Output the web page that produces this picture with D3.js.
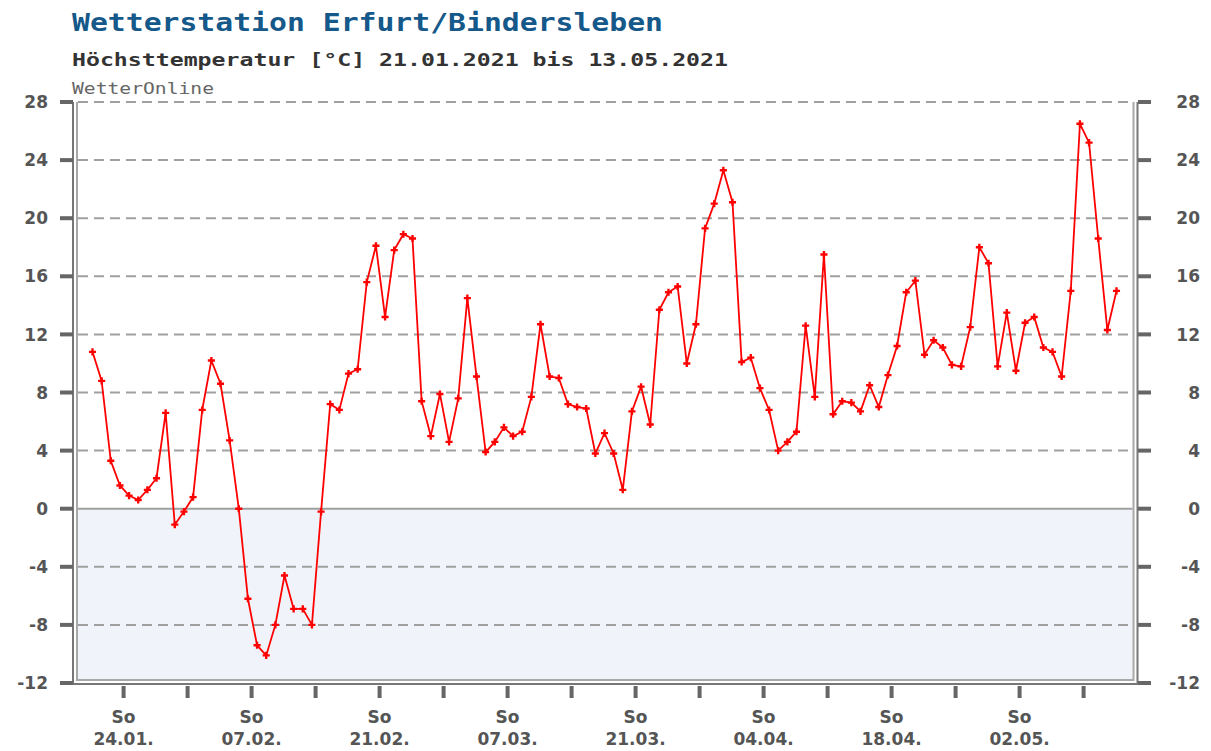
<!DOCTYPE html>
<html>
<head>
<meta charset="utf-8">
<script src="https://cdn.jsdelivr.net/npm/d3@7"></script>
<style>
  body { margin: 0; background: #fff; }
  svg { display: block; }
</style>
</head>
<body>
<div id="chart"></div>
<script>
// daily max temperature, Erfurt/Bindersleben, 21.01.2021 .. 13.05.2021 (one value per day)
const tempValues = [
  10.8, 8.8, 3.3, 1.6, 0.9, 0.6, 1.3, 2.1, 6.6, -1.1,
  -0.2, 0.8, 6.8, 10.2, 8.6, 4.7, 0.0, -6.2, -9.4, -10.1,
  -8.0, -4.6, -6.9, -6.9, -8.0, -0.2, 7.2, 6.8, 9.3, 9.6,
  15.6, 18.1, 13.2, 17.8, 18.9, 18.6, 7.4, 5.0, 7.9, 4.6,
  7.6, 14.5, 9.1, 3.9, 4.6, 5.6, 5.0, 5.3, 7.7, 12.7,
  9.1, 9.0, 7.2, 7.0, 6.9, 3.8, 5.2, 3.8, 1.3, 6.7,
  8.4, 5.8, 13.7, 14.9, 15.3, 10.0, 12.7, 19.3, 21.0, 23.3,
  21.1, 10.1, 10.4, 8.3, 6.8, 4.0, 4.6, 5.3, 12.6, 7.7,
  17.5, 6.5, 7.4, 7.3, 6.7, 8.5, 7.0, 9.2, 11.2, 14.9,
  15.7, 10.6, 11.6, 11.1, 9.9, 9.8, 12.5, 18.0, 16.9, 9.8,
  13.5, 9.5, 12.8, 13.2, 11.1, 10.8, 9.1, 15.0, 26.5, 25.2,
  18.6, 12.3, 15.0
];

const yTicks = [28, 24, 20, 16, 12, 8, 4, 0, -4, -8, -12];
// day index of the first Sunday tick, ticks weekly after that
const firstSunday = 3;
const weekTicks = 16;
const xTickLabels = ["24.01.", "07.02.", "21.02.", "07.03.", "21.03.", "04.04.", "18.04.", "02.05."];

const titleText = "Wetterstation Erfurt/Bindersleben";
const subtitleText = "Höchsttemperatur [°C] 21.01.2021 bis 13.05.2021";
const sourceText = "WetterOnline";

function drawChart(id) {
  const W = 1211, H = 751;
  const plot = { left: 77, right: 1133.5, top: 102, bottom: 680 };

  const svg = d3.select(`#${id}`)
    .append("svg")
    .attr("width", W)
    .attr("height", H);

  const xScale = d3.scaleLinear()
    .domain([0, tempValues.length - 1])
    .range([92.5, 1116.5]);

  const yScale = d3.scaleLinear()
    .domain([-12, 28])
    .range([683, 102]);

  const labelFont = "'DejaVu Sans', sans-serif";

  // titles
  svg.append("text")
    .attr("x", 72).attr("y", 31)
    .attr("textLength", 591).attr("lengthAdjust", "spacingAndGlyphs")
    .style("font", `bold 24px 'DejaVu Sans Mono', monospace`)
    .attr("fill", "#15588a")
    .text(titleText);

  svg.append("text")
    .attr("x", 72).attr("y", 66)
    .attr("textLength", 656).attr("lengthAdjust", "spacingAndGlyphs")
    .style("font", `bold 18px 'DejaVu Sans Mono', monospace`)
    .attr("fill", "#333")
    .text(subtitleText);

  svg.append("text")
    .attr("x", 72).attr("y", 94)
    .attr("textLength", 142).attr("lengthAdjust", "spacingAndGlyphs")
    .style("font", `15px 'DejaVu Sans Mono', monospace`)
    .attr("fill", "#666")
    .text(sourceText);

  // light blue area below freezing
  svg.append("rect")
    .attr("x", plot.left + 1).attr("y", yScale(0))
    .attr("width", plot.right - plot.left - 2)
    .attr("height", plot.bottom - yScale(0))
    .attr("fill", "#f0f4fa");

  // dashed gridlines
  svg.append("g")
    .selectAll("line")
    .data(yTicks.filter((d) => d !== 0 && d !== -12))
    .join("line")
    .attr("x1", plot.left + 1).attr("x2", plot.right - 1)
    .attr("y1", (d) => yScale(d)).attr("y2", (d) => yScale(d))
    .attr("stroke", "#a0a0a0")
    .attr("stroke-width", 2)
    .attr("stroke-dasharray", "10,6");

  // zero line
  svg.append("line")
    .attr("x1", plot.left + 1).attr("x2", plot.right - 1)
    .attr("y1", yScale(0)).attr("y2", yScale(0))
    .attr("stroke", "#a0a0a0")
    .attr("stroke-width", 2);

  // double frame (inner light, outer darker)
  svg.append("path")
    .attr("d", `M${plot.left},${plot.top}V${plot.bottom}H${plot.right}V${plot.top}`)
    .attr("fill", "none").attr("stroke", "#a8a8a8").attr("stroke-width", 2);
  svg.append("path")
    .attr("d", `M73,${plot.top}V684H1137.5V${plot.top}`)
    .attr("fill", "none").attr("stroke", "#777").attr("stroke-width", 2);

  // y ticks + labels on both sides
  const yAxis = svg.append("g");
  yAxis.selectAll("rect.l")
    .data(yTicks).join("rect").attr("class", "l")
    .attr("x", 60).attr("y", (d) => yScale(d) - 2)
    .attr("width", 13).attr("height", 4).attr("fill", "#666");
  yAxis.selectAll("rect.r")
    .data(yTicks).join("rect").attr("class", "r")
    .attr("x", 1138).attr("y", (d) => yScale(d) - 2)
    .attr("width", 13).attr("height", 4).attr("fill", "#666");
  yAxis.selectAll("text.l")
    .data(yTicks).join("text").attr("class", "l")
    .attr("x", 48).attr("y", (d) => yScale(d))
    .attr("dy", "0.36em").attr("text-anchor", "end")
    .style("font", `bold 17px ${labelFont}`)
    .attr("fill", "#555")
    .text((d) => d);
  yAxis.selectAll("text.r")
    .data(yTicks).join("text").attr("class", "r")
    .attr("x", 1200).attr("y", (d) => yScale(d))
    .attr("dy", "0.36em").attr("text-anchor", "end")
    .style("font", `bold 17px ${labelFont}`)
    .attr("fill", "#555")
    .text((d) => d);

  // x ticks: weekly on Sundays, label every second one
  const tickDays = d3.range(weekTicks).map((k) => firstSunday + 7 * k + 0.4);
  const xAxis = svg.append("g");
  xAxis.selectAll("rect")
    .data(tickDays).join("rect")
    .attr("x", (d) => xScale(d) - 2).attr("y", 686)
    .attr("width", 4).attr("height", 12).attr("fill", "#666");
  const labelled = xTickLabels.map((lab, i) => ({ day: tickDays[i * 2], lab: lab }));
  xAxis.selectAll("text.so")
    .data(labelled).join("text").attr("class", "so")
    .attr("x", (d) => xScale(d.day)).attr("y", 723)
    .attr("text-anchor", "middle")
    .style("font", `bold 17px ${labelFont}`)
    .attr("fill", "#555")
    .text("So");
  xAxis.selectAll("text.date")
    .data(labelled).join("text").attr("class", "date")
    .attr("x", (d) => xScale(d.day)).attr("y", 745)
    .attr("text-anchor", "middle")
    .style("font", `bold 17px ${labelFont}`)
    .attr("fill", "#555")
    .text((d) => d.lab);

  // temperature line
  const line = d3.line()
    .x((d, i) => xScale(i))
    .y((d) => yScale(d));

  svg.append("path")
    .datum(tempValues)
    .attr("d", line)
    .attr("fill", "none")
    .attr("stroke", "#ff0000")
    .attr("stroke-width", 1.8);

  svg.append("g")
    .selectAll("path")
    .data(tempValues)
    .join("path")
    .attr("transform", (d, i) => `translate(${xScale(i)},${yScale(d)})`)
    .attr("d", d3.symbol(d3.symbolCross, 28))
    .attr("fill", "#ff0000");
}

document.addEventListener("DOMContentLoaded", function () {
  drawChart("chart");
});
</script>
</body>
</html>
